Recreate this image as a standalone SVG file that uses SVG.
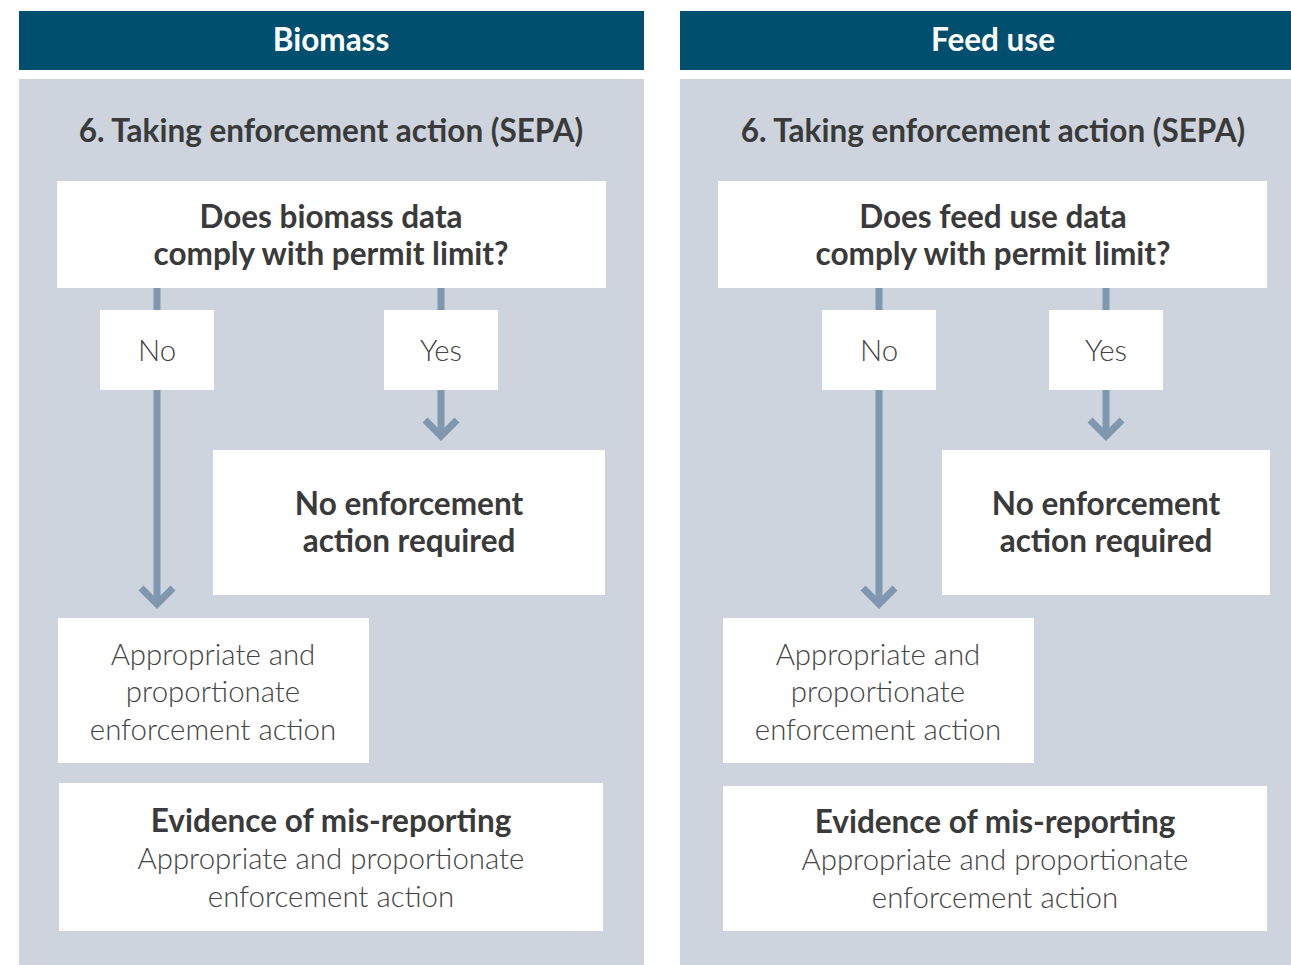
<svg xmlns="http://www.w3.org/2000/svg" width="1291" height="965" viewBox="0 0 1291 965">
<style>
.hdr{fill:#004f6e}
.panel{fill:#cdd4de}
.box{fill:#ffffff}
.hdrt{font-family:Lato,"Open Sans",sans-serif;font-weight:700;font-size:31.5px;fill:#ffffff;text-anchor:middle}
.title{font-family:Lato,"Open Sans",sans-serif;font-weight:700;font-size:31.5px;fill:#3a3a3a;text-anchor:middle}
.b{font-family:Lato,"Open Sans",sans-serif;font-weight:700;font-size:31.5px;fill:#3a3a3a;text-anchor:middle}
.l{font-family:Lato,"Open Sans",sans-serif;font-weight:300;font-size:29.4px;fill:#444444;text-anchor:middle}
.conn{stroke:#7f98b0;stroke-width:7;fill:none}
</style>
<rect width="1291" height="965" fill="#ffffff"/>
<g id="biomass-panel">
<rect class="hdr" x="19" y="11" width="625" height="59"/>
<text class="hdrt" x="331" y="51">Biomass</text>
<rect class="panel" x="19" y="79" width="625" height="886"/>
<text class="title" x="331" y="142">6. Taking enforcement action (SEPA)</text>
</g>
<g id="feed-panel">
<rect class="hdr" x="680" y="11" width="611" height="59"/>
<text class="hdrt" x="993" y="51">Feed use</text>
<rect class="panel" x="680" y="79" width="611" height="886"/>
<text class="title" x="993" y="142">6. Taking enforcement action (SEPA)</text>
</g>
<g id="connectors">
<line class="conn" x1="157" y1="288" x2="157" y2="603"/>
<polyline class="conn" points="141,588 157,604 173,588"/>
<line class="conn" x1="441" y1="288" x2="441" y2="435"/>
<polyline class="conn" points="425,420 441,436 457,420"/>
<line class="conn" x1="879" y1="288" x2="879" y2="603"/>
<polyline class="conn" points="863,588 879,604 895,588"/>
<line class="conn" x1="1106" y1="288" x2="1106" y2="435"/>
<polyline class="conn" points="1090,420 1106,436 1122,420"/>
</g>
<g id="b-question">
<rect class="box" x="57" y="181" width="549" height="107"/>
<text class="b" x="331" y="228">Does biomass data</text>
<text class="b" x="331" y="265">comply with permit limit?</text>
</g>
<g id="b-no">
<rect class="box" x="100" y="310" width="114" height="80"/>
<text class="l" x="157" y="361">No</text>
</g>
<g id="b-yes">
<rect class="box" x="384" y="310" width="114" height="80"/>
<text class="l" x="441" y="361">Yes</text>
</g>
<g id="b-noaction">
<rect class="box" x="213" y="450" width="392" height="145"/>
<text class="b" x="409" y="515">No enforcement</text>
<text class="b" x="409" y="552">action required</text>
</g>
<g id="b-action">
<rect class="box" x="58" y="618" width="311" height="145"/>
<text class="l" x="213" y="665">Appropriate and</text>
<text class="l" x="213" y="702">proportionate</text>
<text class="l" x="213" y="740">enforcement action</text>
</g>
<g id="b-evidence">
<rect class="box" x="59" y="783" width="544" height="148"/>
<text class="b" x="331" y="832">Evidence of mis-reporting</text>
<text class="l" x="331" y="869">Appropriate and proportionate</text>
<text class="l" x="331" y="907">enforcement action</text>
</g>
<g id="f-question">
<rect class="box" x="718" y="181" width="549" height="107"/>
<text class="b" x="993" y="228">Does feed use data</text>
<text class="b" x="993" y="265">comply with permit limit?</text>
</g>
<g id="f-no">
<rect class="box" x="822" y="310" width="114" height="80"/>
<text class="l" x="879" y="361">No</text>
</g>
<g id="f-yes">
<rect class="box" x="1049" y="310" width="114" height="80"/>
<text class="l" x="1106" y="361">Yes</text>
</g>
<g id="f-noaction">
<rect class="box" x="942" y="450" width="328" height="145"/>
<text class="b" x="1106" y="515">No enforcement</text>
<text class="b" x="1106" y="552">action required</text>
</g>
<g id="f-action">
<rect class="box" x="723" y="618" width="311" height="145"/>
<text class="l" x="878" y="665">Appropriate and</text>
<text class="l" x="878" y="702">proportionate</text>
<text class="l" x="878" y="740">enforcement action</text>
</g>
<g id="f-evidence">
<rect class="box" x="723" y="786" width="544" height="145"/>
<text class="b" x="995" y="833">Evidence of mis-reporting</text>
<text class="l" x="995" y="870">Appropriate and proportionate</text>
<text class="l" x="995" y="908">enforcement action</text>
</g>
</svg>
